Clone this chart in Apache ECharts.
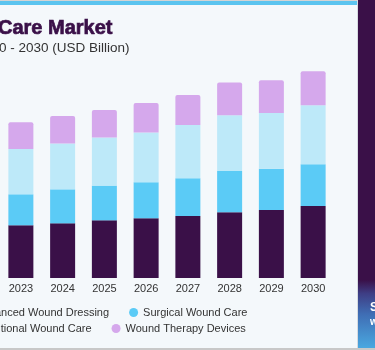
<!DOCTYPE html>
<html><head><meta charset="utf-8">
<script src="https://cdn.jsdelivr.net/npm/echarts@6/dist/echarts.min.js"></script>
<style>html,body{margin:0;padding:0;background:#f4f8fb}#c{width:375px;height:350px}</style>
</head><body><div id="c"></div>
<script>
var years = ['2023','2024','2025','2026','2027','2028','2029','2030'];
var advancedDressing = [7.03,7.29,7.69,7.96,8.27,8.76,9.07,9.60];
var surgicalCare = [4.13,4.53,4.63,4.80,5.03,5.51,5.51,5.56];
var traditionalCare = [6.04,6.13,6.40,6.63,7.11,7.43,7.43,7.87];
var therapyDevices = [3.56,3.64,3.69,3.96,4.00,4.36,4.36,4.53];
var seriesNames = ['Advanced Wound Dressing','Surgical Wound Care','Traditional Wound Care','Wound Therapy Devices'];
var titleText = 'Care Market';
var subText = '0 - 2030 (USD Billion)';

var colors = ['#3a1048','#5bcbf6','#bde9f9','#d5a8ec'];
var chart = echarts.init(document.getElementById('c'));
var values = [advancedDressing, surgicalCare, traditionalCare, therapyDevices];
var series = values.map(function(v,i){
  return {
    name: seriesNames[i], type:'bar', stack:'t', data:v, barWidth:25,
    itemStyle:{color:colors[i], borderRadius: i===3?[2,2,0,0]:0},
    emphasis:{disabled:true}
  };
});
var legendCommon = {
  orient:'horizontal', left:-38, itemWidth:9, itemHeight:9, icon:'circle', itemGap:20, padding:0,
  textStyle:{fontSize:11, color:'#333', fontFamily:'Liberation Sans, Arial, sans-serif'}
};
chart.setOption({
  backgroundColor:'#f4f8fb',
  animation:false,
  color:colors,
  grid:{left:0,right:41,top:8,bottom:72,containLabel:false},
  xAxis:{type:'category',data:years,axisLine:{show:false},axisTick:{show:false},
    axisLabel:{fontSize:11,color:'#333',margin:5,fontFamily:'Liberation Sans, Arial, sans-serif'}},
  yAxis:{type:'value',min:0,max:36,show:false,splitLine:{show:false}},
  legend:[
    Object.assign({top:307,data:[seriesNames[0],seriesNames[1]]},legendCommon),
    Object.assign({top:323,data:[seriesNames[2],seriesNames[3]]},legendCommon)
  ],
  series:series,
  graphic:[
    {type:'rect',shape:{x:0,y:0,width:375,height:1},style:{fill:'#d4d4d4'},z:10,silent:true},
    {type:'rect',shape:{x:0,y:1,width:357,height:4},style:{fill:'#5bc4ef'},z:10,silent:true},
    {type:'rect',shape:{x:357,y:0,width:1,height:350},style:{fill:'#d6dbe0'},z:10,silent:true},
    {type:'rect',shape:{x:358,y:0,width:17,height:350},style:{fill:'#3a1048'},z:10,silent:true},
    {type:'rect',shape:{x:358,y:280,width:17,height:68},style:{fill:new echarts.graphic.LinearGradient(0,0,0,1,[
      {offset:0,color:'#3a1048'},{offset:0.2,color:'#3e3e85'},{offset:0.5,color:'#3f6db4'},{offset:1,color:'#4aa8e0'}])},z:11,silent:true},
    {type:'text',x:370,y:302,style:{text:'S',fill:'#ffffff',font:'bold 12px Liberation Sans, Arial, sans-serif'},z:12,silent:true},
    {type:'text',x:370,y:317,style:{text:'w',fill:'#ffffff',font:'bold 10px Liberation Sans, Arial, sans-serif'},z:12,silent:true},
    {type:'rect',shape:{x:0,y:348,width:375,height:2},style:{fill:'#c8c8c8'},z:13,silent:true},
    {type:'text',x:-2,y:18,style:{text:titleText,fill:'#3a1048',stroke:'#3a1048',lineWidth:0.7,font:'bold 20px Liberation Sans, Arial, sans-serif'},z:12,silent:true},
    {type:'text',x:-1,y:41,style:{text:subText,fill:'#333333',font:'13.5px Liberation Sans, Arial, sans-serif'},z:12,silent:true}
  ]
});
</script></body></html>
